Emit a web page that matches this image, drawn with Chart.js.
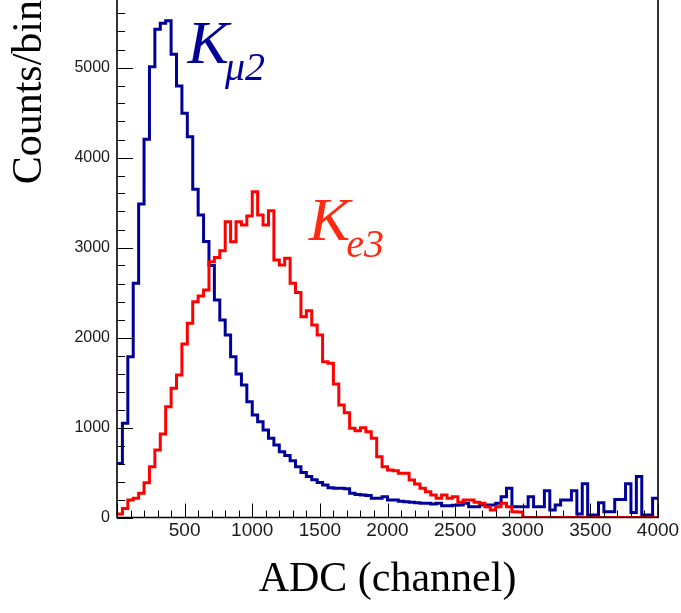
<!DOCTYPE html>
<html><head><meta charset="utf-8">
<script src="https://cdn.jsdelivr.net/npm/chart.js@4/dist/chart.umd.min.js"></script>
<style>html,body{margin:0;padding:0;background:#fff;}</style>
</head><body>
<canvas id="c" width="681" height="613"></canvas>
<script>
// ---- data ----
const binStart = 0;
const binWidth = 40;
const binCount = 100;

const kmu2Counts = [
  600, 1046, 1786, 2602, 3483, 4202, 5009, 5424, 5491, 5520,
  5147, 4794, 4491, 4231, 3647, 3361, 3068, 2800, 2417, 2194,
  2028, 1787, 1595, 1472, 1287, 1139, 1064, 972, 880, 806,
  731, 690, 630, 565, 500, 455, 420, 390, 361, 330,
  324, 324, 320, 269, 255, 250, 245, 213, 213, 231,
  194, 194, 180, 176, 170, 165, 158, 158, 150, 158,
  131, 131, 135, 140, 158, 120, 120, 139, 139, 139,
  158, 231, 324, 120, 120, 120, 231, 120, 120, 298,
  83, 139, 194, 194, 298, 40, 375, 28, 28, 164,
  65, 65, 200, 200, 375, 55, 455, 28, 28, 215
];

const ke3Counts = [
  40, 100, 194, 213, 269, 387, 565, 750, 928, 1231,
  1435, 1583, 1928, 2157, 2398, 2461, 2528, 2843, 2890, 2965,
  3287, 3065, 3287, 3250, 3350, 3620, 3361, 3250, 3409, 2861,
  2806, 2880, 2602, 2500, 2231, 2298, 2139, 2028, 1731, 1713,
  1483, 1250, 1165, 991, 965, 998, 954, 880, 676, 565,
  528, 520, 491, 491, 417, 372, 324, 287, 250, 213,
  250, 213, 231, 170, 194, 194, 170, 158, 120, 83,
  120, 158, 120, 65, 60, 0, 0, 0, 0, 0,
  0, 0, 0, 0, 0, 0, 0, 0, 0, 0,
  0, 0, 0, 0, 0, 0, 0, 0, 0, 0
];

const xMajorTicks = [500, 1000, 1500, 2000, 2500, 3000, 3500, 4000];
const yMajorTicks = [0, 1000, 2000, 3000, 4000, 5000];
const xMinorStep = 100;
const yMinorStep = 200;
const xRange = [0, 4000];
const yRange = [0, 5750];

const seriesNames = ['K', 'K'];
const seriesSubs = ['\u03bc2', 'e3'];
const labelAnchors = [[522, 5050], [1418, 3083]]; // data coords of label baseline-left

// ---- build ----
function toSteps(counts) {
  const pts = [];
  for (let i = 0; i <= binCount; i++) {
    pts.push({ x: binStart + i * binWidth, y: counts[Math.min(i, binCount - 1)] });
  }
  return pts;
}

const BLUE = '#000099';
const RED = '#ff0000';

const tickPlugin = {
  id: 'rootTicks',
  afterDraw(chart) {
    const { ctx, chartArea: a, scales: { x, y } } = chart;
    ctx.save();
    ctx.strokeStyle = '#000';
    ctx.lineWidth = 1;
    ctx.beginPath();
    for (let v = xRange[0]; v <= xRange[1]; v += xMinorStep) {
      const px = Math.round(x.getPixelForValue(v)) + 0.5;
      const len = (v % 500 === 0) ? 14 : 7;
      ctx.moveTo(px, a.bottom);
      ctx.lineTo(px, a.bottom - len);
    }
    for (let v = yRange[0]; v <= yRange[1]; v += yMinorStep) {
      const py = Math.round(y.getPixelForValue(v)) + 0.5;
      const len = (v % 1000 === 0) ? 16 : 8;
      ctx.moveTo(a.left, py);
      ctx.lineTo(a.left + len, py);
    }
    ctx.stroke();
    ctx.lineWidth = 1.6;
    ctx.beginPath();
    ctx.moveTo(a.left, a.top);
    ctx.lineTo(a.left, a.bottom);
    ctx.lineTo(a.right, a.bottom);
    ctx.lineTo(a.right, a.top);
    ctx.stroke();
    ctx.restore();
  }
};

const labelPlugin = {
  id: 'seriesLabels',
  afterDatasetsDraw(chart) {
    const { ctx, scales: { x, y } } = chart;
    const colors = [BLUE, '#ff2a10'];
    ctx.save();
    ctx.textBaseline = 'alphabetic';
    ctx.textAlign = 'left';
    for (let i = 0; i < seriesNames.length; i++) {
      const px = x.getPixelForValue(labelAnchors[i][0]);
      const py = y.getPixelForValue(labelAnchors[i][1]);
      ctx.fillStyle = colors[i];
      ctx.font = 'italic 62px "Liberation Serif"';
      ctx.fillText(seriesNames[i], px, py);
      const w = ctx.measureText(seriesNames[i]).width;
      ctx.font = 'italic 40px "Liberation Serif"';
      ctx.fillText(seriesSubs[i], px + w - 4, py + 17);
    }
    ctx.restore();
  }
};

new Chart(document.getElementById('c'), {
  type: 'line',
  data: {
    datasets: [
      { label: 'Ke3', data: toSteps(ke3Counts), borderColor: RED, borderWidth: 3, stepped: 'before', pointRadius: 0, fill: false, order: 0 },
      { label: 'Kmu2', data: toSteps(kmu2Counts), borderColor: BLUE, borderWidth: 3, stepped: 'before', pointRadius: 0, fill: false, order: 1 }
    ]
  },
  options: {
    responsive: false,
    animation: false,
    devicePixelRatio: 1,
    layout: { padding: { top: 0, right: 23, bottom: 0, left: 0 } },
    plugins: { legend: { display: false }, tooltip: { enabled: false } },
    scales: {
      x: {
        type: 'linear', min: xRange[0], max: xRange[1],
        grid: { display: false, drawTicks: false },
        border: { display: false },
        afterBuildTicks(scale) { scale.ticks = xMajorTicks.map(v => ({ value: v })); },
        afterFit(scale) { scale.height = 95.5; scale.paddingLeft = 0; scale.paddingRight = 0; },
        ticks: { padding: 2, color: '#1a1a1a', callback: v => String(v), font: { family: '"Liberation Sans", Arial, sans-serif', size: 19 }, maxRotation: 0, autoSkip: false },
        title: { display: true, text: 'ADC (channel)', color: '#000', font: { family: '"Liberation Serif", serif', size: 42 }, padding: { top: 10, bottom: 7.8 } }
      },
      y: {
        type: 'linear', min: yRange[0], max: yRange[1],
        grid: { display: false, drawTicks: false },
        border: { display: false },
        afterBuildTicks(scale) { scale.ticks = yMajorTicks.map(v => ({ value: v })); },
        afterFit(scale) { scale.width = 117; scale.paddingTop = 0; scale.paddingBottom = 0; },
        ticks: { padding: 7, color: '#1a1a1a', callback: v => String(v), font: { family: '"Liberation Sans", Arial, sans-serif', size: 16, lineHeight: 0.01 } },
        title: { display: true, text: 'Counts/bin', align: 'end', color: '#000', font: { family: '"Liberation Serif", serif', size: 42 }, padding: { top: 4.8, bottom: 10 } }
      }
    }
  },
  plugins: [tickPlugin, labelPlugin]
});
</script>
</body></html>
